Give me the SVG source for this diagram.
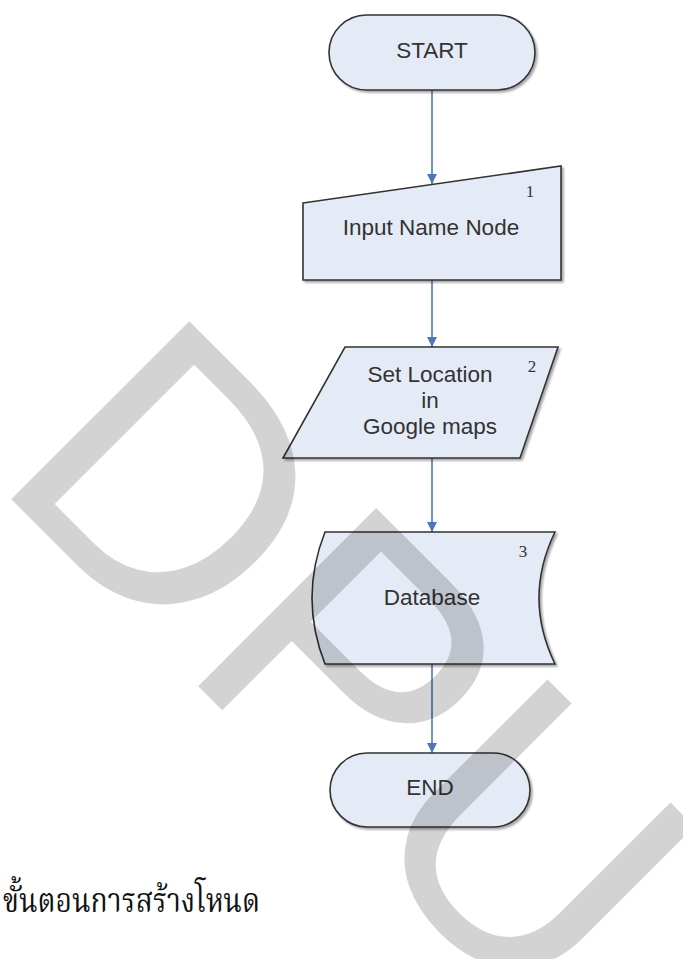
<svg xmlns="http://www.w3.org/2000/svg" width="683" height="959" viewBox="0 0 683 959">
  <defs>
    <marker id="arrow" viewBox="0 0 10 10" refX="10" refY="5" markerWidth="10" markerHeight="10" markerUnits="userSpaceOnUse" orient="auto">
      <path d="M0,0 L10,5 L0,10 z" fill="#4a78b8"/>
    </marker>
    <filter id="shadow" x="-10%" y="-10%" width="120%" height="130%">
      <feGaussianBlur in="SourceAlpha" stdDeviation="0.8"/>
      <feOffset dx="1.5" dy="1.5" result="s"/>
      <feComponentTransfer><feFuncA type="linear" slope="0.35"/></feComponentTransfer>
      <feMerge><feMergeNode/><feMergeNode in="SourceGraphic"/></feMerge>
    </filter>
  </defs>
  <style>
    .shape { fill: #e5ebf6; stroke: #333; stroke-width: 1.6; filter: url(#shadow); }
    .label { font-family: "Liberation Sans", Arial, sans-serif; font-size: 22.5px; fill: #333; text-anchor: middle; }
    .num { font-family: "Liberation Serif", "Times New Roman", serif; font-size: 17px; fill: #333; text-anchor: middle; }
    .link { fill: none; stroke: #4a78b8; stroke-width: 1.6; marker-end: url(#arrow); }
    .caption { font-family: "Noto Serif Thai", "Norasi", "Liberation Serif", serif; font-size: 34px; fill: #111; }
  </style>
  <rect width="683" height="959" fill="#fff"/>

  <!-- connectors -->
  <g id="connectors">
    <line class="link" x1="432" y1="90" x2="432" y2="184"/>
    <line class="link" x1="432" y1="280" x2="432" y2="347"/>
    <line class="link" x1="432" y1="458" x2="432" y2="532"/>
    <line class="link" x1="432" y1="664" x2="432" y2="753"/>
  </g>

  <!-- start terminator -->
  <g id="start">
    <rect class="shape" x="329" y="15" width="206" height="75" rx="37.5" ry="37.5"/>
    <text class="label" x="432" y="58">START</text>
  </g>

  <!-- step 1: manual input -->
  <g id="input-name-node">
    <polygon class="shape" points="303,203 561,166 561,280 303,280"/>
    <text class="label" x="431" y="235">Input Name Node</text>
    <text class="num" x="530" y="197">1</text>
  </g>

  <!-- step 2: data (parallelogram) -->
  <g id="set-location">
    <polygon class="shape" points="345,347 558,347 520,458 283,458"/>
    <text class="label" x="430" y="382">Set Location</text>
    <text class="label" x="430" y="408">in</text>
    <text class="label" x="430" y="434">Google maps</text>
    <text class="num" x="532" y="372">2</text>
  </g>

  <!-- step 3: stored data -->
  <g id="database">
    <path class="shape" d="M325,532 L555,532 Q523,598 555,664 L325,664 Q299,598 325,532 z"/>
    <text class="label" x="432" y="605">Database</text>
    <text class="num" x="523" y="557">3</text>
  </g>

  <!-- end terminator -->
  <g id="end">
    <rect class="shape" x="330" y="753" width="200" height="74" rx="37" ry="37"/>
    <text class="label" x="430" y="795">END</text>
  </g>

  <!-- caption -->
  <text class="caption" x="3" y="912" textLength="257" lengthAdjust="spacingAndGlyphs">ขั้นตอนการสร้างโหนด</text>

  <!-- watermark -->
  <g id="watermark" opacity="0.17">
    <text transform="translate(-10,478) rotate(45)" font-family="Liberation Sans, sans-serif" font-size="366" fill="#000">DPU</text>
  </g>
</svg>
